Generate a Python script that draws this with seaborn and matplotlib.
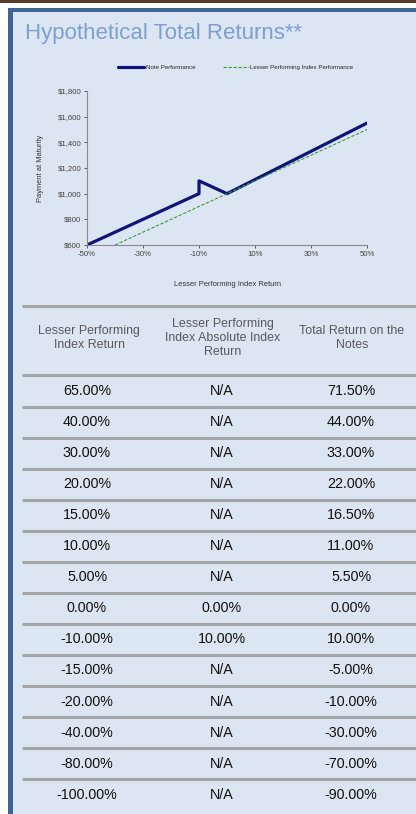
import matplotlib
matplotlib.use("Agg")
import matplotlib.pyplot as plt
import matplotlib.patches as mpatches
import matplotlib.ticker as mticker
import numpy as np
import pandas as pd
import seaborn as sns

# chart data: payment at maturity vs lesser performing index return (%)
note_x = [-50, -10, -10, 0, 50]
note_y = [600, 1000, 1100, 1000, 1550]
index_x = [-40, 50]
index_y = [600, 1500]

x_ticks = [-50, -30, -10, 10, 30, 50]
y_ticks = [600, 800, 1000, 1200, 1400, 1600, 1800]

# table data
headers = ["Lesser Performing\nIndex Return",
           "Lesser Performing\nIndex Absolute Index\nReturn",
           "Total Return on the\nNotes"]
index_returns = ["65.00%", "40.00%", "30.00%", "20.00%", "15.00%", "10.00%", "5.00%",
                 "0.00%", "-10.00%", "-15.00%", "-20.00%", "-40.00%", "-80.00%", "-100.00%"]
abs_returns = ["N/A", "N/A", "N/A", "N/A", "N/A", "N/A", "N/A",
               "0.00%", "10.00%", "N/A", "N/A", "N/A", "N/A", "N/A"]
note_returns = ["71.50%", "44.00%", "33.00%", "22.00%", "16.50%", "11.00%", "5.50%",
                "0.00%", "10.00%", "-5.00%", "-10.00%", "-30.00%", "-70.00%", "-90.00%"]

sns.set_style("white")
plt.rcParams["font.family"] = ["Liberation Sans", "DejaVu Sans"]

W, H = 416, 814
fig = plt.figure(figsize=(W / 100, H / 100), dpi=100)
fig.patch.set_facecolor("white")

# background / frame in pixel coordinates
bg = fig.add_axes([0, 0, 1, 1])
bg.set_xlim(0, W)
bg.set_ylim(H, 0)
bg.axis("off")
bg.add_patch(mpatches.Rectangle((0, 0), W, 3, color="#5b3a26", lw=0))
bg.add_patch(mpatches.Rectangle((8, 8), W, H, color="#3e6596", lw=0))
bg.add_patch(mpatches.Rectangle((13, 12), W, H, color="#dce6f2", lw=0))
bg.text(25, 33, "Hypothetical Total Returns**", fontsize=16, color="#7d9fd1",
        va="center", ha="left")

# table
header_x = [89, 223, 352]
col_x = [87, 222, 351]
for cx, h in zip(header_x, headers):
    bg.text(cx, 338, h, fontsize=8.9, color="#55595e", ha="center", va="center",
            linespacing=1.25)
sep_color = "#a2a5a9"
bg.plot([22, W], [306, 306], color=sep_color, lw=2.2, solid_capstyle="butt")
row_h = 31.05
first_row = 391
for i, (a, b, c) in enumerate(zip(index_returns, abs_returns, note_returns)):
    yc = first_row + i * row_h
    for cx, t in zip(col_x, (a, b, c)):
        bg.text(cx, yc, t, fontsize=10.3, color="#111111", ha="center", va="center")
    ys = yc - row_h / 2
    bg.plot([22, W], [ys, ys], color=sep_color, lw=2.2, solid_capstyle="butt")

# line chart
ax = fig.add_axes([87 / W, 1 - 245 / H, 280 / W, 154 / H])
ax.set_facecolor("none")
note_df = pd.DataFrame({"x": note_x, "y": note_y})
index_df = pd.DataFrame({"x": index_x, "y": index_y})
sns.lineplot(data=note_df, x="x", y="y", ax=ax, estimator=None, sort=False,
             color="#10147a", lw=2.3, label="Note Performance")
sns.lineplot(data=index_df, x="x", y="y", ax=ax, estimator=None, sort=False,
             color="#3f9b3f", lw=0.8, linestyle=(0, (3, 1.5)),
             label="Lesser Performing Index Performance")
ax.set_xlim(-50, 50)
ax.set_ylim(600, 1800)
ax.set_xticks(x_ticks)
ax.set_yticks(y_ticks)
ax.xaxis.set_major_formatter(mticker.FuncFormatter(lambda v, p: f"{v:.0f}%"))
ax.yaxis.set_major_formatter(mticker.FuncFormatter(lambda v, p: f"${v:,.0f}"))
for s in ["top", "right"]:
    ax.spines[s].set_visible(False)
for s in ["left", "bottom"]:
    ax.spines[s].set_color("#8a8a8a")
    ax.spines[s].set_linewidth(0.8)
ax.tick_params(axis="both", labelsize=5.6, colors="#444444", length=2.5, width=0.6,
               direction="out", pad=1.5, bottom=True, left=True)
ax.set_xlabel("Lesser Performing Index Return", fontsize=5.4, color="#333333", labelpad=17)
ax.set_ylabel("Payment at Maturity", fontsize=5.4, color="#333333", labelpad=10)
ax.legend(loc="center", bbox_to_anchor=(236 / W, 1 - 67 / H), bbox_transform=fig.transFigure,
          ncol=2, frameon=False, fontsize=4.4, handlelength=4.2, columnspacing=4.5,
          handletextpad=0.3)

fig.savefig("out.png", dpi=100, facecolor=fig.get_facecolor())
